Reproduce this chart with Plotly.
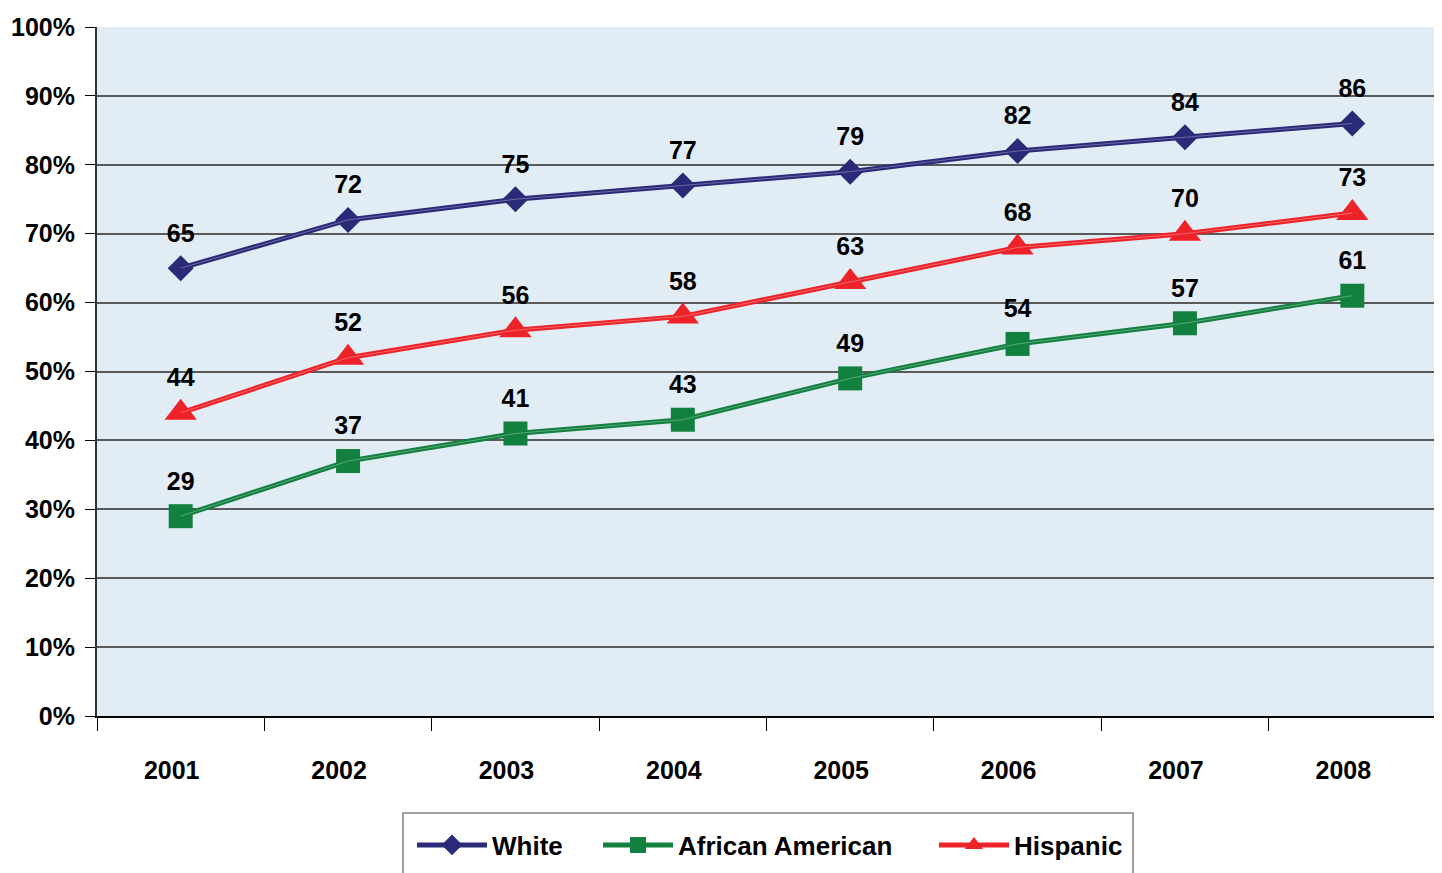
import plotly.graph_objects as go

years = ["2001", "2002", "2003", "2004", "2005", "2006", "2007", "2008"]
white = [65, 72, 75, 77, 79, 82, 84, 86]
african_american = [29, 37, 41, 43, 49, 54, 57, 61]
hispanic = [44, 52, 56, 58, 63, 68, 70, 73]
y_ticks = [0, 10, 20, 30, 40, 50, 60, 70, 80, 90, 100]
y_tick_labels = [f"{v}%" for v in y_ticks]

series = [
    ("White", white, "#2A2A78", "diamond", 20, "legend"),
    ("African American", african_american, "#12803F", "square", 24, "legend2"),
    ("Hispanic", hispanic, "#EE2229", "triangle-up", 28, "legend3"),
]

FONT = "Liberation Sans, Arial, sans-serif"
BOLD = dict(family=FONT, size=25, color="black", weight="bold")
LEGFONT = dict(family=FONT, size=26, color="black", weight="bold")

# plot area in page pixels, used to place legend pieces
PL, PR, PT, PB = 97, 1436, 27, 716
def px_x(p):
    return (p - PL) / (PR - PL)
def px_y(p):
    return (PB - p) / (PB - PT)

fig = go.Figure()
for name, vals, color, sym, size, leg in series:
    fig.add_trace(go.Scatter(
        x=years, y=vals, name=name, mode="lines+markers", legend=leg,
        line=dict(color=color, width=5),
        marker=dict(symbol=sym, size=size, color=color, line=dict(width=0)),
    ))
    fig.add_trace(go.Scatter(
        x=years, y=vals, mode="lines", showlegend=False, hoverinfo="skip",
        line=dict(color="rgba(255,255,255,0.3)", width=1),
    ))
for name, vals, color, sym, size, leg in series:
    # data labels placed above each point
    fig.add_trace(go.Scatter(
        x=years, y=vals, mode="markers+text", showlegend=False, hoverinfo="skip",
        text=[str(v) for v in vals], textposition="top center",
        textfont=BOLD,
        marker=dict(size=31, color="rgba(0,0,0,0)"),
        cliponaxis=False,
    ))

leg_common = dict(orientation="h", xanchor="left", yanchor="middle",
                  y=px_y(845), borderwidth=0, bgcolor="rgba(0,0,0,0)",
                  font=LEGFONT, itemwidth=70)

fig.update_layout(
    width=1442, height=873,
    margin=dict(l=89, r=14, t=19, b=165),
    paper_bgcolor="white", plot_bgcolor="#E2ECF5",
    font=BOLD,
    showlegend=True,
    legend=dict(x=px_x(412), **leg_common),
    legend2=dict(x=px_x(598), **leg_common),
    legend3=dict(x=px_x(934), **leg_common),
    shapes=[
        dict(type="line", xref="paper", yref="paper", x0=1, x1=1, y0=0, y1=1,
             line=dict(color="#909090", width=1.5)),
        dict(type="rect", xref="paper", yref="paper",
             x0=px_x(403), x1=px_x(1133), y0=px_y(813), y1=px_y(895),
             line=dict(color="#7F7F7F", width=1.5), fillcolor="white", layer="below"),
    ],
)

fig.update_xaxes(
    type="category", range=[-0.5, 7.5], tickson="boundaries",
    ticks="outside", ticklen=13, tickcolor="black", tickwidth=1.2,
    showline=True, linecolor="black", linewidth=2,
    showgrid=False, zeroline=False, automargin=False,
    tickfont=BOLD,
    ticklabelstandoff=31, ticklabelshift=-9,
)
fig.update_yaxes(
    range=[0, 100], tickvals=y_ticks, ticktext=y_tick_labels,
    ticks="outside", ticklen=10, tickcolor="black", tickwidth=1.2,
    showline=True, linecolor="#333333", linewidth=2,
    showgrid=True, gridcolor="#5A5A5A", gridwidth=1.5, zeroline=False,
    automargin=False,
    tickfont=BOLD,
    ticklabelstandoff=5,
)

fig.write_html("out.html")
